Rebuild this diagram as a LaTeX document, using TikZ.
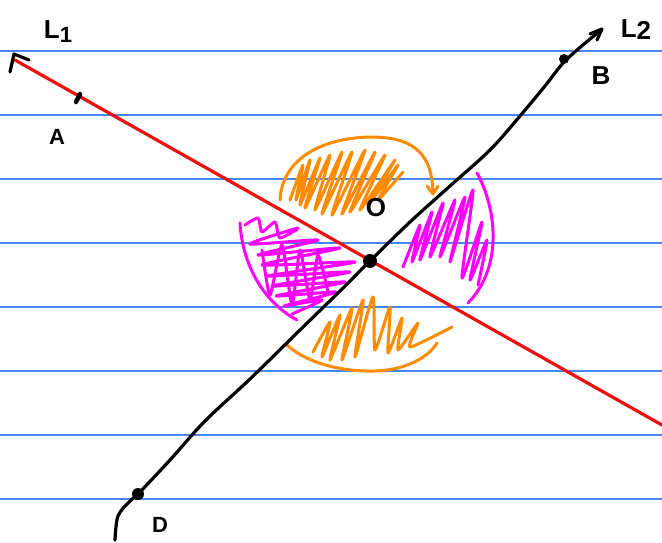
\documentclass[tikz,border=0pt]{standalone}
\usepackage{fontspec}
\setmainfont{Liberation Sans}
\definecolor{ruleblue}{RGB}{70,135,235}
\definecolor{penorange}{RGB}{255,140,0}
\definecolor{penmagenta}{RGB}{255,0,255}
\definecolor{penred}{RGB}{240,15,15}
\begin{document}
\begin{tikzpicture}[x=1pt,y=-1pt,line cap=round,line join=round]
\tikzset{
  rule/.style={draw=ruleblue,line width=1.2pt},
  redpen/.style={draw=penred,line width=3.2pt},
  blackpen/.style={draw=black,line width=3.2pt},
  orangepen/.style={draw=penorange,line width=3pt},
  magentapen/.style={draw=penmagenta,line width=3pt},
  hand/.style={font=\bfseries\fontsize{26}{26}\selectfont,inner sep=0pt},
  dot/.style={circle,fill=black,inner sep=0pt,minimum size=12pt}
}
\useasboundingbox (0,0) rectangle (662,543);
\fill[white] (0,0) rectangle (662,543);
% ruled lines
\foreach \yy in {51,115,179,243,307,371,435,499}
  \draw[rule] (0,\yy) -- (662,\yy);
% orange top scribble
\draw[orangepen] (280,200) .. controls (282,160) and (320,138) .. (370,137)
  .. controls (410,137) and (432,150) .. (433,193);
\draw[orangepen] (427,186) -- (433,194) -- (438,186);
\draw[orangepen] plot[smooth,tension=0.35] coordinates {(290,200) (303,165) (296,200) (310,160) (300,205) (320,158)
  (305,208) (330,155) (315,210) (342,152) (322,214) (352,152) (332,215) (365,150) (342,214)
  (375,152) (350,212) (385,155) (360,210) (395,160) (368,205) (398,165) (378,200) (403,172)};
% orange bottom scribble
\draw[orangepen] (287,345) .. controls (305,362) and (340,372) .. (375,371)
  .. controls (405,370) and (428,358) .. (437,343);
\draw[orangepen] plot[smooth,tension=0.35] coordinates {(313,352) (330,322) (322,357) (340,315) (330,360)
  (352,308) (342,360) (363,300) (355,357) (373,297) (375,350) (390,307) (388,353) (402,318)
  (398,350) (418,323) (410,347) (452,327)};
% magenta left scribble
\draw[magentapen] (240,223) .. controls (242,260) and (260,300) .. (297,320);
\draw[magentapen] plot[smooth,tension=0.35] coordinates {(245,225) (258,218) (262,232) (275,222) (280,238)
  (298,228) (250,244) (318,240) (258,255) (340,248) (262,265) (355,262) (268,276)
  (350,272) (272,286) (345,282) (276,296) (336,292) (284,306) (322,300) (292,314)};
\draw[magentapen] plot[smooth,tension=0.35] coordinates {(262,250) (270,295) (282,245) (292,305) (300,250)
  (310,300) (318,255) (328,292)};
% magenta right scribble
\draw[magentapen] (477,173) .. controls (495,205) and (505,265) .. (468,303);
\draw[magentapen] plot[smooth,tension=0.35] coordinates {(403,267) (420,225) (412,262) (432,212) (420,260)
  (443,203) (430,257) (455,200) (440,257) (465,197) (450,262) (473,190) (462,278)
  (482,222) (470,280) (487,240) (478,285)};
% L1 red line
\coordinate (r1) at (15,60);
\coordinate (r2) at (662,425);
\draw[redpen] (r1) -- (r2);
\draw[blackpen] (10,72) -- (14,54) -- (29,60);
% L2 black curve
\draw[blackpen] plot[smooth,tension=0.55] coordinates {(115,540) (118,516) (130,501) (138,494)
  (170,460) (205,421) (250,379) (300,330) (340,291) (370,261) (410,222) (450,186)
  (490,150) (520,116) (545,86) (566,60) (601,30)};
\draw[blackpen] (590,34) -- (602,29) -- (597,40);
% points
\node[dot,minimum size=14pt] (O) at (370,261) {};
\node[dot,minimum size=10pt] (B) at (564,59) {};
\node[dot] (D) at (138,494) {};
\draw[blackpen,line width=4.5pt] (76,102) -- (80,94);
\coordinate (A) at (78,98);
% labels
\node[hand] (lA) at (57,137) {\fontsize{22}{22}\selectfont A};
\node[hand] (lB) at (601,76) {B};
\node[hand] (lO) at (376,208) {O};
\node[hand] (lD) at (160,525) {\fontsize{22}{22}\selectfont D};
\node[hand] (lL1) at (58,32) {L\raisebox{-4pt}{\fontsize{22}{22}\selectfont 1}};
\node[hand] (lL2) at (636,30) {L\raisebox{-2pt}{2}};
\end{tikzpicture}
\end{document}
